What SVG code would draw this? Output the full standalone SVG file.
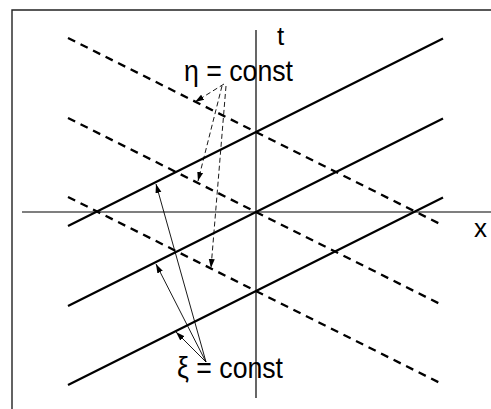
<svg xmlns="http://www.w3.org/2000/svg" width="491" height="409" viewBox="0 0 491 409">
<style>
.frame{stroke:#222;stroke-width:1.4;fill:none}
.axis{stroke:#000;stroke-width:1.2;fill:none}
.xi{stroke:#000;stroke-width:2.3;fill:none;stroke-linecap:butt}
.eta{stroke:#000;stroke-width:2.3;fill:none;stroke-dasharray:8 6}
.arr{stroke:#000;stroke-width:0.9;fill:none}
.darr{stroke:#000;stroke-width:0.9;fill:none;stroke-dasharray:5 3}
.lbl{font-family:"Liberation Sans",Arial,sans-serif;fill:#000}
</style>
<defs>
<marker id="ah" markerUnits="userSpaceOnUse" markerWidth="10" markerHeight="8" refX="9" refY="3" orient="auto" viewBox="0 0 10 6">
<path d="M0,0 L9,3 L0,6 Z" fill="#000" stroke="none"/>
</marker>
</defs>
<rect width="491" height="409" fill="#fff"/>
<g id="frame">
<path class="frame" d="M12,409 L12,10 L491,10"/>
</g>
<g id="axes">
<line class="axis" x1="256" y1="30" x2="256" y2="398"/>
<line class="axis" x1="22" y1="212" x2="491" y2="212"/>
</g>
<g id="xi-lines">
<line class="xi" x1="68" y1="226" x2="443" y2="38.5"/>
<line class="xi" x1="68" y1="306" x2="443" y2="118.5"/>
<line class="xi" x1="68" y1="385" x2="443" y2="197.5"/>
</g>
<g id="eta-lines">
<line class="eta" x1="68" y1="38" x2="443" y2="225.5"/>
<line class="eta" x1="68" y1="118" x2="443" y2="305.5"/>
<line class="eta" x1="68" y1="197" x2="443" y2="384.5"/>
</g>
<g id="connectors">
<line class="darr" x1="224" y1="84" x2="195" y2="102" marker-end="url(#ah)"/>
<line class="darr" x1="222" y1="86" x2="198" y2="181" marker-end="url(#ah)"/>
<line class="darr" x1="226" y1="86" x2="211" y2="268" marker-end="url(#ah)"/>
<line class="arr" x1="206" y1="362" x2="156" y2="184" marker-end="url(#ah)"/>
<line class="arr" x1="206" y1="362" x2="156" y2="264" marker-end="url(#ah)"/>
<line class="arr" x1="206" y1="362" x2="176" y2="332" marker-end="url(#ah)"/>
</g>
<g id="labels">
<text class="lbl" x="277" y="45" font-size="26">t</text>
<text class="lbl" x="474" y="237" font-size="26">x</text>
<text class="lbl" x="184" y="81" font-size="30" textLength="109" lengthAdjust="spacingAndGlyphs">η = const</text>
<text class="lbl" x="177" y="378" font-size="30" textLength="106" lengthAdjust="spacingAndGlyphs">ξ = const</text>
</g>
</svg>
